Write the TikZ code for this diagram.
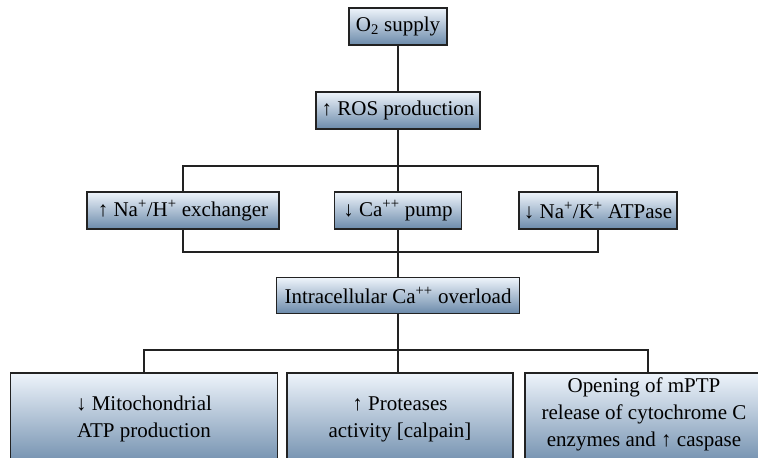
\documentclass[tikz,border=0pt]{standalone}
\usepackage{fontspec}
\setmainfont{Liberation Serif}
\definecolor{boxtop}{HTML}{EEF4FB}
\definecolor{boxbot}{HTML}{6B8AAA}
\definecolor{edge}{HTML}{222222}
\begin{document}
\begin{tikzpicture}[x=1pt,y=-1pt,
  box/.style={draw=edge, line width=1.4pt, top color=boxtop, bottom color=boxbot,
    inner sep=0pt, font=\fontsize{21}{27}\selectfont, align=center},
  txt/.style={inner sep=0pt, font=\fontsize{21}{27}\selectfont, align=center},
  link/.style={line width=1.1pt, draw=edge}]
\useasboundingbox (0,0) rectangle (758,458);
\clip (0,0) rectangle (758,458);
% top chain
\node[box, minimum width=98pt, minimum height=37pt] (o2) at (398,26.5) {O\textsubscript{2} supply};
\node[box, minimum width=164pt, minimum height=37pt] (ros) at (398,110.5) {↑ ROS production};
% middle row
\node[box, minimum width=192pt, minimum height=37pt] (nah) at (183,210.5) {↑ Na\textsuperscript{+}/H\textsuperscript{+} exchanger};
\node[box, minimum width=127pt, minimum height=37pt] (ca) at (398,210.5) {↓ Ca\textsuperscript{++} pump};
\node[box, minimum width=158pt, minimum height=37pt] (nak) at (598,210.5) {↓ Na\textsuperscript{+}/K\textsuperscript{+} ATPase};
\node[box, minimum width=243pt, minimum height=36pt] (intra) at (398,295.5) {Intracellular Ca\textsuperscript{++} overload};
% bottom row
\node[box, minimum width=267pt, minimum height=96pt] (mito) at (144,421) {};
\node[box, minimum width=226pt, minimum height=96pt] (prot) at (400,421) {};
\node[box, minimum width=246pt, minimum height=96pt] (mptp) at (648,421) {};
\node[txt] (mitotext) at (144,419) {↓ Mitochondrial\\ATP production};
\node[txt] (prottext) at (400,419) {↑ Proteases\\activity [calpain]};
\node[txt] (mptptext) at (644,414) {Opening of mPTP\\release of cytochrome C\\enzymes and ↑ caspase};
% junction coordinates
\coordinate (h1) at (398,166);
\coordinate (h2) at (398,252);
\coordinate (h3) at (398,350);
% connectors
\draw[link] (o2) -- (ros);
\draw[link] (ros.south) -- (ros.south |- ca.north);
\draw[link] (nah.north) -- (nah.north |- h1) -- (nak.north |- h1) -- (nak.north);
\draw[link] (nah.south) -- (nah.south |- h2) -- (nak.south |- h2) -- (nak.south);
\draw[link] (ca.south) -- (ca.south |- intra.north);
\draw[link] (intra.south) -- (intra.south |- prot.north);
\draw[link] (mito.north) -- (mito.north |- h3) -- (mptp.north |- h3) -- (mptp.north);
\end{tikzpicture}
\end{document}
